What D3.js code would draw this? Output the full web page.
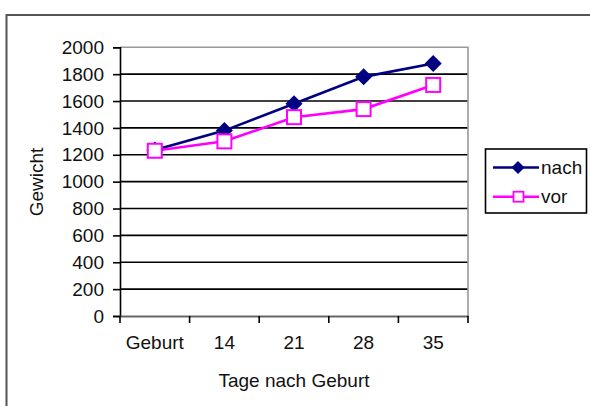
<!DOCTYPE html>
<html><head><meta charset="utf-8">
<script src="https://cdn.jsdelivr.net/npm/d3@7"></script>
<style>body{margin:0;background:#fff}svg{display:block}text{font-family:"Liberation Sans",Arial,sans-serif;fill:#111}</style>
</head><body><svg id="c" width="590" height="406"></svg>
<script>
const categories = ["Geburt","14","21","28","35"];
const nach = [1235,1380,1580,1780,1880];
const vor = [1230,1300,1480,1540,1720];
const yTicks = [0,200,400,600,800,1000,1200,1400,1600,1800,2000];
const seriesNames = ["nach","vor"];
const xTitle = "Tage nach Geburt";
const yTitle = "Gewicht";

const svg = d3.select("#c");
const L=120,R=468,T=47.3,B=316;
const x = d3.scaleBand().domain(categories).range([L,R]);
const y = d3.scaleLinear().domain([0,2000]).range([B,T]);
const fs = 19;

// outer frame
svg.append("rect").attr("x",6.5).attr("y",15).attr("width",600).attr("height",420)
  .attr("fill","none").attr("stroke","#555").attr("stroke-width",2);

// gridlines
svg.append("g").selectAll("line").data(yTicks.filter(d=>d>0&&d<2000)).join("line")
  .attr("x1",L).attr("x2",R).attr("y1",d=>y(d)).attr("y2",d=>y(d))
  .attr("stroke","#000").attr("stroke-width",1.6);
// plot border top/right
svg.append("path").attr("d",`M${L},${y(2000)}H${R}V${B}`).attr("fill","none").attr("stroke","#999").attr("stroke-width",1.6);

// y axis
const ya = svg.append("g").attr("transform",`translate(${L},0)`)
  .call(d3.axisLeft(y).tickValues(yTicks).tickSize(7).tickPadding(9).tickFormat(d3.format("d")));
ya.select(".domain").attr("stroke","#000").attr("stroke-width",1.6);
ya.selectAll(".tick line").attr("stroke","#000").attr("stroke-width",1.6);
ya.selectAll("text").attr("font-size",fs).attr("fill","#111").style("font-family","Liberation Sans, Arial, sans-serif");

// x axis
const xa = svg.append("g").attr("transform",`translate(0,${B})`)
  .call(d3.axisBottom(x).tickSize(0).tickPadding(20));
xa.select(".domain").attr("stroke","#666").attr("stroke-width",2);
xa.selectAll("text").attr("font-size",fs).attr("fill","#111").style("font-family","Liberation Sans, Arial, sans-serif");
// x boundary ticks
const bounds = categories.map(c=>x(c)).concat([R]);
svg.append("g").selectAll("line").data(bounds).join("line")
  .attr("x1",d=>d).attr("x2",d=>d).attr("y1",B).attr("y2",B+7)
  .attr("stroke","#000").attr("stroke-width",1.6);

// titles
svg.append("text").attr("x",(L+R)/2).attr("y",386.5).attr("text-anchor","middle").attr("font-size",fs).text(xTitle);
svg.append("text").attr("transform",`translate(43,182) rotate(-90)`).attr("text-anchor","middle").attr("font-size",fs).text(yTitle);

const cx = d=>x(d)+x.bandwidth()/2;
const line = d3.line().x(d=>cx(d[0])).y(d=>y(d[1]));
const nd = categories.map((c,i)=>[c,nach[i]]);
const vd = categories.map((c,i)=>[c,vor[i]]);
const navy="#000080", mag="#ff00ff";

svg.append("path").attr("d",line(nd)).attr("fill","none").attr("stroke",navy).attr("stroke-width",2.6);
svg.append("path").attr("d",line(vd)).attr("fill","none").attr("stroke",mag).attr("stroke-width",2.6);
const diamond = s=>`M0,${-s}L${s},0L0,${s}L${-s},0Z`;
svg.append("g").selectAll("path").data(nd).join("path")
  .attr("transform",d=>`translate(${cx(d[0])},${y(d[1])})`).attr("d",diamond(8.5)).attr("fill",navy);
svg.append("g").selectAll("rect").data(vd).join("rect")
  .attr("x",d=>cx(d[0])-7).attr("y",d=>y(d[1])-7).attr("width",14).attr("height",14)
  .attr("fill","#fff").attr("stroke",mag).attr("stroke-width",2);

// legend
const lg = svg.append("g");
lg.append("rect").attr("x",485.5).attr("y",149).attr("width",101).attr("height",64).attr("fill","#fff").attr("stroke","#000").attr("stroke-width",1.6);
const ly=[167.5,196.7];
seriesNames.forEach((n,i)=>{
  const col = i===0?navy:mag;
  lg.append("line").attr("x1",493).attr("x2",539).attr("y1",ly[i]).attr("y2",ly[i]).attr("stroke",col).attr("stroke-width",2.6);
  if(i===0) lg.append("path").attr("transform",`translate(518,${ly[i]})`).attr("d",diamond(6.5)).attr("fill",navy);
  else lg.append("rect").attr("x",513.5).attr("y",ly[i]-5).attr("width",10).attr("height",10).attr("fill","#fff").attr("stroke",mag).attr("stroke-width",1.8);
  lg.append("text").attr("x",541).attr("y",ly[i]+6.5).attr("font-size",fs).text(n);
});
</script></body></html>
